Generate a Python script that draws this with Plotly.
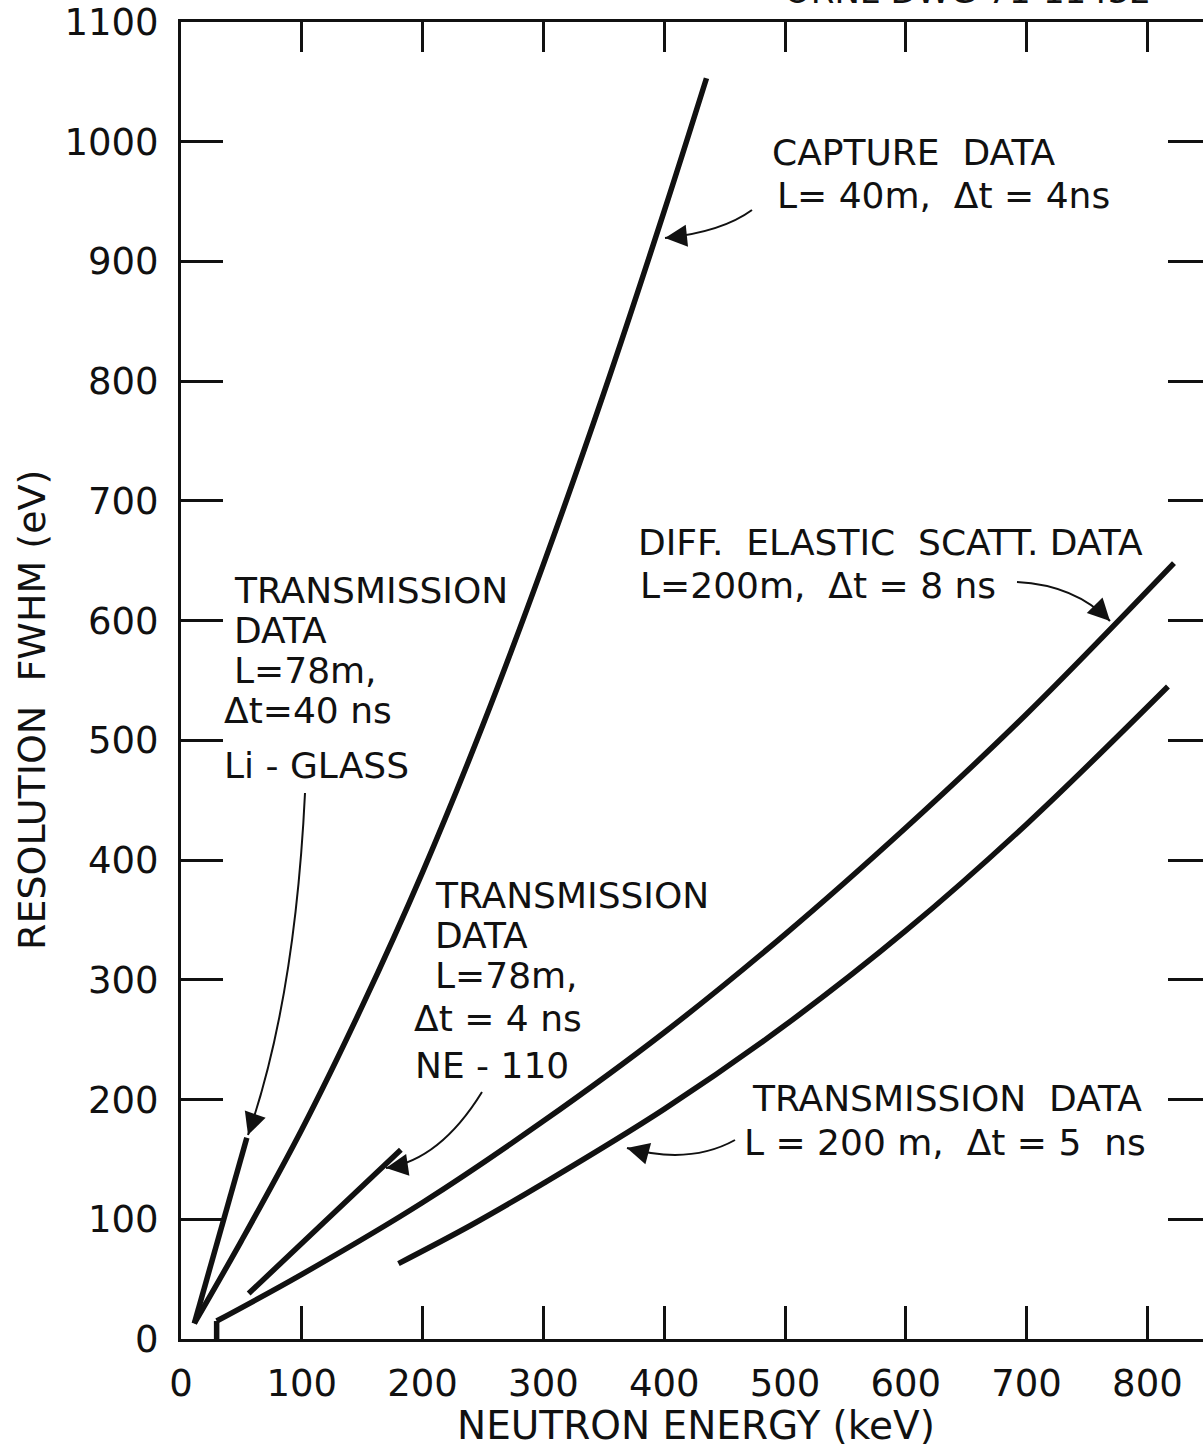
import plotly.graph_objects as go

# ---------------- data ----------------
capture_E = [11, 50, 100, 150, 200, 250, 300, 350, 400, 435]
capture_R = [13, 82, 175, 278, 390, 513, 647, 790, 942, 1053]

li_glass_E = [11, 32, 54.5]
li_glass_R = [13, 89, 168]

ne110_E = [56, 118, 182]
ne110_R = [38, 97, 158]

diff_E = [29.5, 29.5, 100, 200, 300, 400, 500, 600, 700, 822]
diff_R = [0, 15, 54, 114, 182, 256, 338, 427, 522, 648]

trans200_E = [180, 240, 300, 400, 500, 600, 700, 817]
trans200_R = [63, 95, 130, 192, 262, 341, 430, 545]

x_ticks = [0, 100, 200, 300, 400, 500, 600, 700, 800]
y_ticks = [0, 100, 200, 300, 400, 500, 600, 700, 800, 900, 1000, 1100]
x_inner_ticks = [100, 200, 300, 400, 500, 600, 700, 800]
y_inner_ticks = [100, 200, 300, 400, 500, 600, 700, 800, 900, 1000]

# ---------------- layout geometry ----------------
W, H = 1203, 1448
ML, MR, MT, MB = 181, 0, 22, 109
PW, PH = W - ML - MR, H - MT - MB
Y_MAX = 1100
PX_PER_X = 1.208
X_MAX = PW / PX_PER_X
PX_PER_Y = PH / Y_MAX

FONT = "DejaVu Sans"
BLACK = "#111111"


def dx(xp):
    return (xp - ML) / PX_PER_X


def dy(yp):
    return (MT + PH - yp) / PX_PER_Y


def pxp(xp):
    return (xp - ML) / PW


def pyp(yp):
    return (MT + PH - yp) / PH


fig = go.Figure()

spline = dict(color=BLACK, width=5.5, shape="spline", smoothing=1.0)
linear = dict(color=BLACK, width=5.5, shape="linear")
series = [
    (capture_E, capture_R, spline),
    (li_glass_E, li_glass_R, linear),
    (ne110_E, ne110_R, spline),
    (diff_E[:2], diff_R[:2], linear),      # short vertical start of the curve
    (diff_E[1:], diff_R[1:], spline),
    (trans200_E, trans200_R, spline),
]
for E, R, st in series:
    fig.add_trace(go.Scatter(x=E, y=R, mode="lines", line=st,
                             showlegend=False, hoverinfo="skip", cliponaxis=False))

# dummy traces so the mirrored (top / right) axes are drawn
fig.add_trace(go.Scatter(x=[None], y=[None], xaxis="x2", yaxis="y", showlegend=False))
fig.add_trace(go.Scatter(x=[None], y=[None], xaxis="x", yaxis="y2", showlegend=False))

tickfont = dict(family=FONT, size=37, color=BLACK)
fig.update_layout(
    width=W, height=H,
    margin=dict(l=ML, r=MR, t=MT, b=MB, pad=0),
    paper_bgcolor="white", plot_bgcolor="white",
    showlegend=False,
    xaxis=dict(range=[0, X_MAX], tickmode="array", tickvals=x_ticks,
               ticktext=[str(v) for v in x_ticks],
               ticks="inside", ticklen=33, tickwidth=3, tickcolor=BLACK,
               showline=True, linewidth=3, linecolor=BLACK,
               showgrid=False, zeroline=False, tickfont=tickfont,
               ticklabelstandoff=10),
    yaxis=dict(range=[0, Y_MAX], tickmode="array", tickvals=y_ticks,
               ticktext=[str(v) for v in y_ticks],
               ticks="inside", ticklen=42, tickwidth=3, tickcolor=BLACK,
               showline=True, linewidth=3, linecolor=BLACK,
               showgrid=False, zeroline=False, tickfont=tickfont,
               ticklabelstandoff=12),
    xaxis2=dict(range=[0, X_MAX], overlaying="x", side="top", anchor="y",
                tickmode="array", tickvals=x_inner_ticks,
                ticks="inside", ticklen=30, tickwidth=3, tickcolor=BLACK,
                showline=True, linewidth=3, linecolor=BLACK,
                showticklabels=False, showgrid=False, zeroline=False),
    yaxis2=dict(range=[0, Y_MAX], overlaying="y", side="right", anchor="x",
                tickmode="array", tickvals=y_inner_ticks,
                ticks="inside", ticklen=35, tickwidth=3, tickcolor=BLACK,
                showline=False, showticklabels=False, showgrid=False, zeroline=False),
)

# ---------------- text labels ----------------
labels = [
    ("CAPTURE  DATA", 770, 152, 36),
    ("L= 40m,  \u0394t = 4ns", 775, 195, 36),
    ("DIFF.  ELASTIC  SCATT. DATA", 636, 542, 36),
    ("L=200m,  \u0394t = 8 ns", 638, 585, 36),
    ("TRANSMISSION", 232, 590, 36),
    ("DATA", 232, 630, 36),
    ("L=78m,", 232, 670, 36),
    ("\u0394t=40 ns", 222, 710, 36),
    ("Li - GLASS", 222, 765, 36),
    ("TRANSMISSION", 433, 895, 36),
    ("DATA", 433, 935, 36),
    ("L=78m,", 433, 975, 36),
    ("\u0394t = 4 ns", 412, 1018, 36),
    ("NE - 110", 413, 1065, 36),
    ("TRANSMISSION  DATA", 750, 1098, 36),
    ("L = 200 m,  \u0394t = 5  ns", 742, 1142, 36),
]
for txt, xp, yp, fs in labels:
    fig.add_annotation(x=dx(xp), y=dy(yp), xref="x", yref="y", text=txt,
                       showarrow=False, xanchor="left", yanchor="middle",
                       font=dict(family=FONT, size=fs, color=BLACK))

# axis titles
fig.add_annotation(x=pxp(696), y=pyp(1425), xref="paper", yref="paper",
                   text="NEUTRON ENERGY (keV)", showarrow=False,
                   xanchor="center", yanchor="middle",
                   font=dict(family=FONT, size=39, color=BLACK))
fig.add_annotation(x=pxp(32), y=pyp(710), xref="paper", yref="paper",
                   text="RESOLUTION  FWHM (eV)", showarrow=False, textangle=-90,
                   xanchor="center", yanchor="middle",
                   font=dict(family=FONT, size=38, color=BLACK))

# drawing number, cut off at the top edge
fig.add_annotation(x=pxp(782), y=1, xref="paper", yref="paper",
                   text="ORNL-DWG 71-11432", showarrow=False,
                   xanchor="left", yanchor="bottom", yshift=9,
                   font=dict(family=FONT, size=34, color=BLACK))

# ---------------- pointer arrows (curved shafts + heads) ----------------
arrows = [
    # (start px, control px, tip px)
    ((752, 210), (722, 232), (665, 238)),
    ((1017, 582), (1075, 585), (1110, 621)),
    ((305, 793), (295, 1000), (248, 1135)),
    ((482, 1092), (440, 1160), (386, 1168)),
    ((735, 1140), (690, 1165), (627, 1148)),
]
for (sx, sy), (cx, cy), (tx, ty) in arrows:
    path = "M {},{} Q {},{} {},{}".format(dx(sx), dy(sy), dx(cx), dy(cy), dx(tx), dy(ty))
    fig.add_shape(type="path", path=path, xref="x", yref="y",
                  line=dict(color=BLACK, width=2))
    vx, vy = cx - tx, cy - ty
    n = (vx * vx + vy * vy) ** 0.5
    fig.add_annotation(x=dx(tx), y=dy(ty), xref="x", yref="y", text="",
                       showarrow=True, arrowhead=2, arrowsize=2.2, arrowwidth=2,
                       arrowcolor=BLACK, ax=vx / n * 20, ay=vy / n * 20)

fig.write_html("out.html", config={"displayModeBar": False},
               post_script="document.body.style.margin='0';document.body.style.overflow='hidden';")
